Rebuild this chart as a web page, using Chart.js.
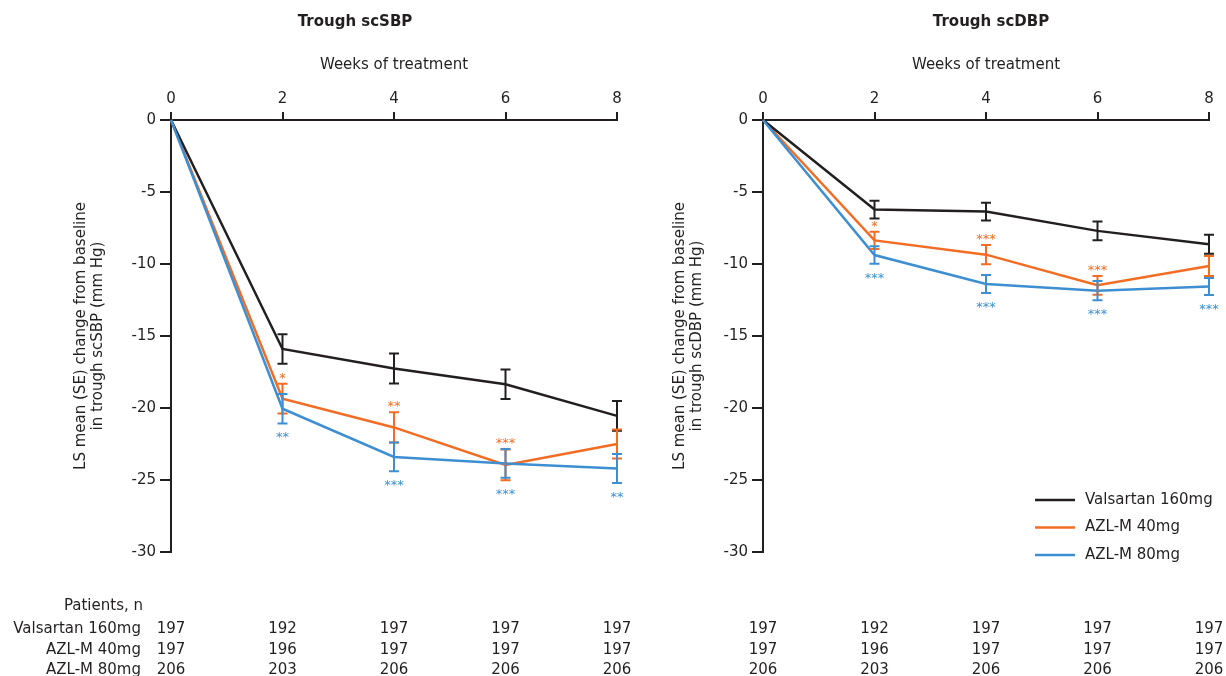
<!DOCTYPE html>
<html>
<head>
<meta charset="utf-8">
<script src="https://cdn.jsdelivr.net/npm/chart.js@4.4.1/dist/chart.umd.min.js"></script>
<style>
  body { margin: 0; background: #fff; }
  #wrap { position: relative; width: 1226px; height: 676px; overflow: hidden; }
  #wrap canvas { position: absolute; left: 0; top: 0; }
</style>
</head>
<body>
<div id="wrap">
  <canvas id="sbpChart" width="1226" height="676"></canvas>
  <canvas id="dbpChart" width="1226" height="676"></canvas>
</div>
<script>
// weeks on the x axis
const weeks = [0, 2, 4, 6, 8];
const seriesNames = ['Valsartan 160mg', 'AZL-M 40mg', 'AZL-M 80mg'];
const yTicks = [0, -5, -10, -15, -20, -25, -30];

// trough scSBP, LS mean change (mm Hg) and SE
const sbpValsartan = [0, -15.9, -17.25, -18.35, -20.55];
const sbpAzl40 = [0, -19.35, -21.35, -23.95, -22.5];
const sbpAzl80 = [0, -20.05, -23.4, -23.85, -24.2];
const sbpSeValsartan = [0, 1.02, 1.04, 1.03, 1.03];
const sbpSeAzl40 = [0, 1.04, 1.05, 1.07, 1.0];
const sbpSeAzl80 = [0, 1.02, 1.0, 1.0, 1.0];
const sbpStars40 = ['', '*', '**', '***', ''];
const sbpStars80 = ['', '**', '***', '***', '**'];

// trough scDBP
const dbpValsartan = [0, -6.22, -6.36, -7.7, -8.63];
const dbpAzl40 = [0, -8.36, -9.35, -11.48, -10.14];
const dbpAzl80 = [0, -9.38, -11.39, -11.85, -11.57];
const dbpSeValsartan = [0, 0.62, 0.62, 0.65, 0.66];
const dbpSeAzl40 = [0, 0.6, 0.67, 0.65, 0.7];
const dbpSeAzl80 = [0, 0.61, 0.63, 0.67, 0.59];
const dbpStars40 = ['', '*', '***', '***', ''];
const dbpStars80 = ['', '***', '***', '***', '***'];

// patients, n (same for both panels)
const nValsartan = [197, 192, 197, 197, 197];
const nAzl40 = [197, 196, 197, 197, 197];
const nAzl80 = [206, 203, 206, 206, 206];

const dark = '#231f20';
const orange = '#f36c24';
const blue = '#3d8fd1';
const colors = [dark, orange, blue];
const FONT = '"DejaVu Sans", "Liberation Sans", sans-serif';

Chart.defaults.font.family = FONT;
Chart.defaults.font.size = 15;
Chart.defaults.color = dark;

const toPoints = (vals) => weeks.map((w, i) => ({ x: w, y: vals[i] }));

// draws error bars, stars, panel title, patient table and legend
const makeExtras = (cfg) => ({
    id: 'extras',
    afterDatasetsDraw(chart) {
        const ctx = chart.ctx, xs = chart.scales.x, ys = chart.scales.y;
        const sets = chart.data.datasets;
        ctx.save();
        ctx.lineWidth = 2;
        sets.forEach((ds, k) => {
            ctx.strokeStyle = ds.borderColor;
            ds.data.forEach((p, i) => {
                const se = cfg.se[k][i];
                if (!se) return;
                const x = xs.getPixelForValue(p.x);
                const y1 = ys.getPixelForValue(p.y + se);
                const y2 = ys.getPixelForValue(p.y - se);
                ctx.beginPath();
                ctx.moveTo(x, y1); ctx.lineTo(x, y2);
                ctx.moveTo(x - 5, y1); ctx.lineTo(x + 5, y1);
                ctx.moveTo(x - 5, y2); ctx.lineTo(x + 5, y2);
                ctx.stroke();
            });
        });
        // significance stars
        ctx.font = '13px ' + FONT;
        ctx.textAlign = 'center';
        ctx.textBaseline = 'alphabetic';
        weeks.forEach((w, i) => {
            const x = xs.getPixelForValue(w);
            const a = sets[1].data[i].y, b = sets[2].data[i].y;
            const top = Math.min(ys.getPixelForValue(a + cfg.se[1][i]), ys.getPixelForValue(b + cfg.se[2][i]));
            const bot = Math.max(ys.getPixelForValue(a - cfg.se[1][i]), ys.getPixelForValue(b - cfg.se[2][i]));
            if (cfg.stars40[i]) {
                ctx.fillStyle = sets[1].borderColor;
                ctx.fillText(cfg.stars40[i], x, top - 2);
            }
            if (cfg.stars80[i]) {
                ctx.fillStyle = sets[2].borderColor;
                ctx.fillText(cfg.stars80[i], x, bot + 18);
            }
        });
        ctx.restore();
    },
    afterDraw(chart) {
        const ctx = chart.ctx, xs = chart.scales.x;
        ctx.save();
        ctx.fillStyle = dark;
        ctx.textBaseline = 'alphabetic';
        // panel title
        ctx.font = 'bold 15px ' + FONT;
        ctx.textAlign = 'center';
        ctx.fillText(cfg.title, cfg.titleX, 26);
        // patients table
        ctx.font = '15px ' + FONT;
        const rowY = [633, 654, 674];
        [nValsartan, nAzl40, nAzl80].forEach((row, r) => {
            ctx.textAlign = 'center';
            row.forEach((n, i) => ctx.fillText(String(n), xs.getPixelForValue(weeks[i]), rowY[r]));
            if (cfg.rowLabels) {
                ctx.textAlign = 'right';
                ctx.fillText(seriesNames[r], 141, rowY[r]);
            }
        });
        if (cfg.rowLabels) {
            ctx.textAlign = 'right';
            ctx.fillText('Patients, n', 143, 610);
        }
        // legend
        if (cfg.legend) {
            chart.data.datasets.forEach((ds, k) => {
                const y = 500 + k * 27.5;
                ctx.strokeStyle = ds.borderColor;
                ctx.lineWidth = 2.5;
                ctx.beginPath();
                ctx.moveTo(1035, y); ctx.lineTo(1075, y);
                ctx.stroke();
                ctx.textAlign = 'left';
                ctx.textBaseline = 'middle';
                ctx.fillStyle = dark;
                ctx.fillText(ds.label, 1085, y);
            });
        }
        ctx.restore();
    }
});

const makePanel = (id, cfg) => {
    const series = cfg.values;
    return new Chart(document.getElementById(id).getContext('2d'), {
        type: 'line',
        data: {
            datasets: series.map((vals, k) => ({
                label: seriesNames[k],
                data: toPoints(vals),
                borderColor: colors[k],
                backgroundColor: colors[k],
                borderWidth: 2.5,
                pointRadius: 0,
                tension: 0,
                clip: false,
                order: [1, 2, 0][k]
            }))
        },
        options: {
            responsive: false,
            animation: false,
            layout: { padding: { left: cfg.padLeft, right: cfg.padRight, top: 0, bottom: 124 } },
            plugins: { legend: { display: false }, tooltip: { enabled: false }, title: { display: false } },
            scales: {
                x: {
                    type: 'linear',
                    position: 'top',
                    min: 0, max: 8,
                    afterBuildTicks: (s) => { s.ticks = weeks.map(v => ({ value: v })); },
                    afterFit: (s) => { s.height = 120; },
                    grid: { drawOnChartArea: false, drawTicks: true, tickLength: 8, lineWidth: 2, tickColor: dark },
                    border: { display: true, color: dark, width: 2 },
                    ticks: { padding: 4, color: dark, font: { size: 15 } },
                    title: { display: true, text: 'Weeks of treatment', color: dark, font: { size: 15 }, padding: { top: 56, bottom: 0 } }
                },
                y: {
                    type: 'linear',
                    min: -30, max: 0,
                    afterBuildTicks: (s) => { s.ticks = yTicks.map(v => ({ value: v })); },
                    afterFit: (s) => { s.width = 171; },
                    grid: { drawOnChartArea: false, drawTicks: true, tickLength: 11, lineWidth: 2, tickColor: dark },
                    border: { display: true, color: dark, width: 2 },
                    ticks: { padding: 4, color: dark, font: { size: 15 }, callback: (v) => String(v) },
                    title: {
                        display: true,
                        text: ['LS mean (SE) change from baseline', cfg.yTitle2],
                        color: dark,
                        font: { size: 15, lineHeight: 1.1 },
                        padding: { top: cfg.yTitlePad, bottom: 0 }
                    }
                }
            }
        },
        plugins: [makeExtras(cfg)]
    });
};

makePanel('sbpChart', {
    title: 'Trough scSBP', titleX: 355,
    values: [sbpValsartan, sbpAzl40, sbpAzl80],
    se: [sbpSeValsartan, sbpSeAzl40, sbpSeAzl80],
    stars40: sbpStars40, stars80: sbpStars80,
    yTitle2: 'in trough scSBP (mm Hg)',
    padLeft: 0, padRight: 1226 - 617, yTitlePad: 73,
    rowLabels: true, legend: false
});

makePanel('dbpChart', {
    title: 'Trough scDBP', titleX: 991,
    values: [dbpValsartan, dbpAzl40, dbpAzl80],
    se: [dbpSeValsartan, dbpSeAzl40, dbpSeAzl80],
    stars40: dbpStars40, stars80: dbpStars80,
    yTitle2: 'in trough scDBP (mm Hg)',
    padLeft: 592, padRight: 1226 - 1209, yTitlePad: 80,
    rowLabels: false, legend: true
});
</script>
</body>
</html>
